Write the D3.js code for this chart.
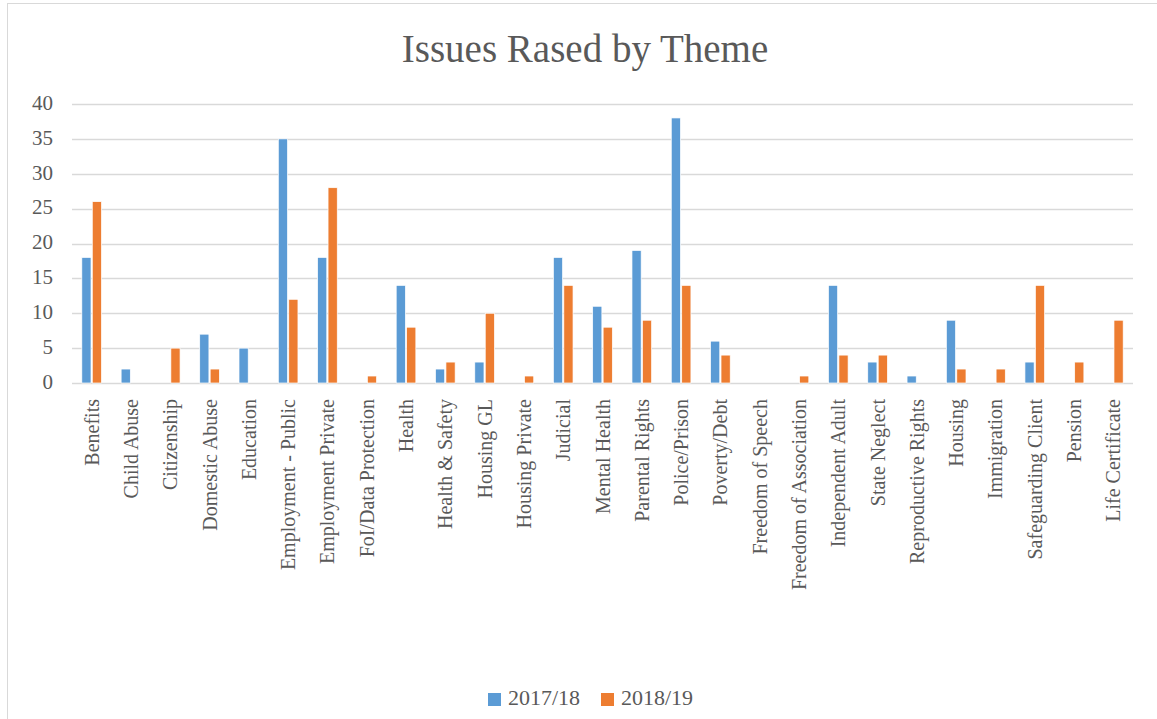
<!DOCTYPE html>
<html>
<head>
<meta charset="utf-8">
<script src="https://cdn.jsdelivr.net/npm/d3@7"></script>
<style>
  body { margin: 0; background: #fff; }
  svg text { font-family: "Liberation Serif", "DejaVu Serif", serif; fill: #595959; }
</style>
</head>
<body>
<div id="chart"></div>
<script>
// categories and values
const themes = ["Benefits", "Child Abuse", "Citizenship", "Domestic Abuse", "Education",
  "Employment - Public", "Employment Private", "FoI/Data Protection", "Health",
  "Health & Safety", "Housing GL", "Housing Private", "Judicial", "Mental Health",
  "Parental Rights", "Police/Prison", "Poverty/Debt", "Freedom of Speech",
  "Freedom of Association", "Independent Adult", "State Neglect", "Reproductive Rights",
  "Housing", "Immigration", "Safeguarding Client", "Pension", "Life Certificate"];
const y2017 = [18, 2, 0, 7, 5, 35, 18, 0, 14, 2, 3, 0, 18, 11, 19, 38, 6, 0, 0, 14, 3, 1, 9, 0, 3, 0, 0];
const y2018 = [26, 0, 5, 2, 0, 12, 28, 1, 8, 3, 10, 1, 14, 8, 9, 14, 4, 0, 1, 4, 4, 0, 2, 2, 14, 3, 9];
const seriesNames = ["2017/18", "2018/19"];
const colors = ["#5b9bd5", "#ed7d31"];
const yTicks = [0, 5, 10, 15, 20, 25, 30, 35, 40];

const width = 1157, height = 719;
const margin = { top: 104, right: 24, bottom: 336, left: 72 };

const svg = d3.select("#chart").append("svg")
  .attr("width", width)
  .attr("height", height);

// outer chart border
svg.append("rect")
  .attr("x", 7.5).attr("y", 3.5)
  .attr("width", 1160).attr("height", 730)
  .attr("fill", "none")
  .attr("stroke", "#d9d9d9");

svg.append("text")
  .attr("x", 585).attr("y", 62)
  .attr("text-anchor", "middle")
  .style("font-size", "39px")
  .text("Issues Rased by Theme");

const x = d3.scaleBand()
  .domain(themes)
  .range([margin.left, width - margin.right])
  .paddingInner(0.5)
  .paddingOuter(0.25);

const x1 = d3.scaleBand()
  .domain(seriesNames)
  .range([0, x.bandwidth()])
  .paddingInner(0.12);

const y = d3.scaleLinear()
  .domain([0, 40])
  .range([height - margin.bottom, margin.top]);

// gridlines
svg.append("g")
  .selectAll("line")
  .data(yTicks)
  .join("line")
  .attr("x1", margin.left)
  .attr("x2", width - margin.right)
  .attr("y1", d => Math.round(y(d)) + 0.5)
  .attr("y2", d => Math.round(y(d)) + 0.5)
  .attr("stroke", "#d9d9d9")
  .attr("stroke-width", 1.5);

// y axis labels
const yAxis = svg.append("g")
  .attr("transform", `translate(${margin.left - 19},0)`)
  .call(d3.axisLeft(y).tickValues(yTicks).tickSize(0).tickPadding(0));
yAxis.select(".domain").remove();
yAxis.selectAll("text")
  .style("font-size", "21px")
  .style("font-family", "'Liberation Serif', serif")
  .attr("fill", "#595959")
  .attr("dy", "0.25em");

// bars
const rows = themes.map((t, i) => ({ theme: t, vals: [y2017[i], y2018[i]] }));
const groups = svg.append("g")
  .selectAll("g")
  .data(rows)
  .join("g")
  .attr("transform", d => `translate(${x(d.theme)},0)`);

groups.selectAll("rect")
  .data(d => d.vals.map((v, k) => ({ key: seriesNames[k], value: v, k: k })))
  .join("rect")
  .attr("x", d => x1(d.key))
  .attr("width", x1.bandwidth())
  .attr("y", d => y(d.value))
  .attr("height", d => y(0) - y(d.value))
  .attr("fill", d => colors[d.k])
  .attr("stroke", "#fff")
  .attr("stroke-width", 0.7)
  .attr("display", d => d.value === 0 ? "none" : null);

// x axis category labels (rotated)
svg.append("g")
  .selectAll("text")
  .data(themes)
  .join("text")
  .attr("transform", d => `translate(${x(d) + x.bandwidth() / 2 + 7},${y(0) + 16}) rotate(-90)`)
  .attr("text-anchor", "end")
  .style("font-size", "20px")
  .text(d => d);

// legend
const legend = svg.append("g")
  .attr("transform", "translate(488,700)");
const items = legend.selectAll("g")
  .data(seriesNames)
  .join("g")
  .attr("transform", (d, i) => `translate(${i * 113},0)`);
items.append("rect")
  .attr("x", 0).attr("y", -7)
  .attr("width", 13).attr("height", 13)
  .attr("fill", (d, i) => colors[i]);
items.append("text")
  .attr("x", 20).attr("y", 5)
  .style("font-size", "22px")
  .text(d => d);
</script>
</body>
</html>
